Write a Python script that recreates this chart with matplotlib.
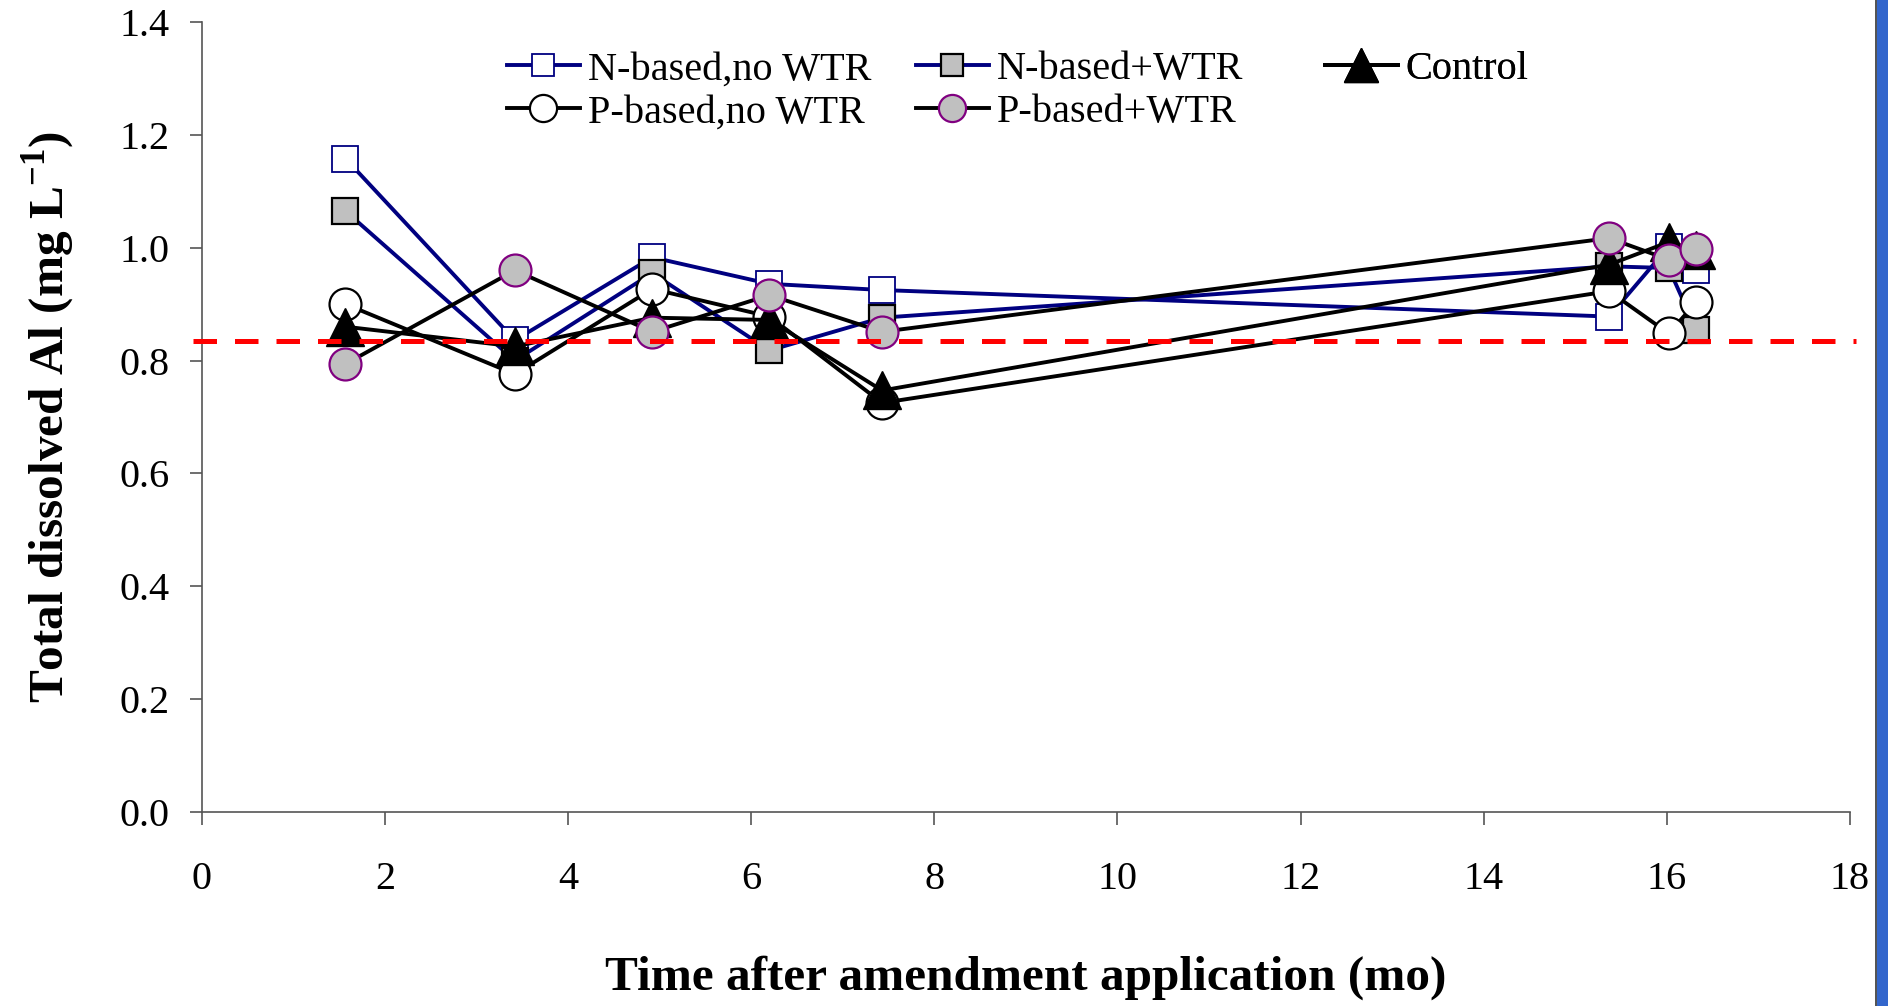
import matplotlib
matplotlib.use("Agg")
import matplotlib.pyplot as plt
from matplotlib.patches import Rectangle

plt.rcParams['font.family'] = ['Liberation Serif', 'DejaVu Serif']
plt.rcParams['mathtext.fontset'] = 'custom'
plt.rcParams['mathtext.rm'] = 'Liberation Serif'
plt.rcParams['mathtext.bf'] = 'Liberation Serif:bold'

# sampling times (months after amendment application)
months = [1.57, 3.42, 4.92, 6.20, 7.43, 15.37, 16.02, 16.32]

# total dissolved Al, mg/L
n_no_wtr = [1.158, 0.836, 0.983, 0.936, 0.925, 0.878, 1.002, 0.960]
n_wtr = [1.065, 0.800, 0.955, 0.818, 0.876, 0.967, 0.964, 0.855]
p_no_wtr = [0.900, 0.776, 0.927, 0.878, 0.725, 0.923, 0.848, 0.903]
p_wtr = [0.794, 0.960, 0.851, 0.916, 0.851, 1.017, 0.979, 0.998]
control = [0.860, 0.825, 0.876, 0.872, 0.747, 0.970, 1.010, 0.996]

threshold = 0.835
x_ticks = [0, 2, 4, 6, 8, 10, 12, 14, 16, 18]
y_ticks = [0.0, 0.2, 0.4, 0.6, 0.8, 1.0, 1.2, 1.4]

W, H = 1888, 1006
fig = plt.figure(figsize=(W / 100, H / 100), dpi=100)
ax = fig.add_axes([201.7 / W, 1 - 812 / H, (1850 - 201.7) / W, (812 - 22) / H])

navy = '#000080'
gray = '#C0C0C0'
lw = 2.8

l1, = ax.plot(months, n_no_wtr, color=navy, lw=lw, marker='s', ms=19,
              mfc='white', mec=navy, mew=1.3, label='N-based,no WTR')
l2, = ax.plot(months, n_wtr, color=navy, lw=lw, marker='s', ms=19,
              mfc=gray, mec='black', mew=1.6, label='N-based+WTR')
l3, = ax.plot(months, p_no_wtr, color='black', lw=lw, marker='o', ms=23,
              mfc='white', mec='black', mew=1.6, label='P-based,no WTR')
l5, = ax.plot(months, control, color='black', lw=lw, marker='^', ms=28,
              mfc='black', mec='black', mew=1, label='Control')
l4, = ax.plot(months, p_wtr, color='black', lw=lw, marker='o', ms=23,
              mfc=gray, mec='#800080', mew=1.6, label='P-based+WTR')

# reference level
ax.plot([-0.1, 18.07], [threshold, threshold], color='#FF0000', lw=3.6,
        dashes=(4.7, 3.6), clip_on=False, zorder=6)

ax.set_xlim(0, 18)
ax.set_ylim(0, 1.4)
ax.set_xticks(x_ticks)
ax.set_yticks(y_ticks)
ax.set_yticklabels([f'{v:.1f}' for v in y_ticks])
for s in ['top', 'right']:
    ax.spines[s].set_visible(False)
for s in ['left', 'bottom']:
    ax.spines[s].set_color('#555555')
    ax.spines[s].set_linewidth(1.2)
ax.tick_params(axis='both', direction='out', length=9, width=1.2,
               color='#555555', labelsize=29)
ax.tick_params(axis='x', pad=26)
ax.tick_params(axis='y', pad=14)

ax.set_xlabel('Time after amendment application (mo)', fontsize=35.5,
              fontweight='bold')
ax.xaxis.set_label_coords(0.5, -(955 - 812) / (812 - 22))
ax.set_ylabel('Total dissolved Al (mg L$^{\\mathbf{-1}}$)', fontsize=35.5,
              fontweight='bold')
ax.yaxis.set_label_coords(-(201.7 - 78) / (1850 - 201.7), 0.5)

# legend: three equally spaced columns
cols = [([l1, l3], 507), ([l2, l4], 916), ([l5], 1325)]
for handles, xpx in cols:
    leg = ax.legend(handles=handles, loc='upper left',
                    bbox_to_anchor=(xpx / W, 1 - 51 / H),
                    bbox_transform=fig.transFigure, frameon=False,
                    fontsize=29, handlelength=1.8, handletextpad=0.2,
                    labelspacing=0.15, borderpad=0, borderaxespad=0,
                    markerscale=0.85)
    ax.add_artist(leg)

# blue strip at the right edge
fig.patches.append(Rectangle((1876 / W, 0), 12 / W, 1, transform=fig.transFigure,
                             facecolor='#3366CC', edgecolor='none'))
fig.patches.append(Rectangle((1874.5 / W, 0), 2 / W, 1, transform=fig.transFigure,
                             facecolor='#555555', edgecolor='none'))

fig.savefig('out.png', dpi=100)
